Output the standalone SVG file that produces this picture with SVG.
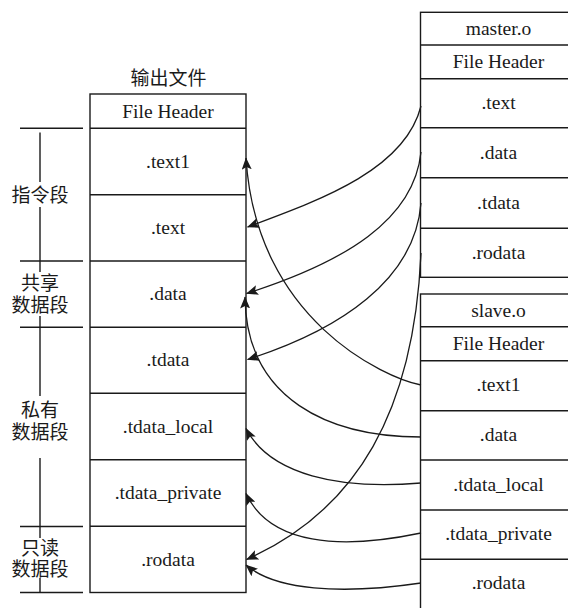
<svg xmlns="http://www.w3.org/2000/svg" width="568" height="608" viewBox="0 0 568 608">
<style>
.box{fill:#fff;stroke:#1a1a1a;stroke-width:1.4}
.ln{stroke:#1a1a1a;stroke-width:1.4;fill:none}
.t{font-family:"Liberation Serif","Times New Roman",serif;font-size:19.5px;fill:#1a1a1a;text-anchor:middle}
.c{font-family:"Noto Sans CJK SC","Noto Sans",sans-serif;font-size:19px;fill:#1a1a1a;text-anchor:middle}
.cn{stroke:#1a1a1a;stroke-width:1.3;fill:none;marker-end:url(#ah)}
</style>
<defs>
<marker id="ah" viewBox="0 0 12 10" refX="11.5" refY="5" markerWidth="12" markerHeight="10" markerUnits="userSpaceOnUse" orient="auto">
<path d="M0,0 L12,5 L0,10 L2.5,5 z" fill="#1a1a1a"/>
</marker>
</defs>
<rect width="568" height="608" fill="#fff"/>

<g id="output-file">
<text class="c" x="168.5" y="85" font-size="20">输出文件</text>
<rect class="box" x="90" y="94" width="156" height="498.5"/>
<line class="ln" x1="90" y1="128.3" x2="246" y2="128.3"/>
<line class="ln" x1="90" y1="194.7" x2="246" y2="194.7"/>
<line class="ln" x1="90" y1="261" x2="246" y2="261"/>
<line class="ln" x1="90" y1="327.3" x2="246" y2="327.3"/>
<line class="ln" x1="90" y1="393.3" x2="246" y2="393.3"/>
<line class="ln" x1="90" y1="459.7" x2="246" y2="459.7"/>
<line class="ln" x1="90" y1="526.3" x2="246" y2="526.3"/>
<text class="t" x="168" y="118">File Header</text>
<text class="t" x="168" y="167.5">.text1</text>
<text class="t" x="168" y="234">.text</text>
<text class="t" x="168" y="300">.data</text>
<text class="t" x="168" y="366">.tdata</text>
<text class="t" x="168" y="432.5">.tdata_local</text>
<text class="t" x="168" y="499">.tdata_private</text>
<text class="t" x="168" y="565.5">.rodata</text>
</g>

<g id="segment-labels">
<line class="ln" x1="20" y1="128.3" x2="83" y2="128.3"/>
<line class="ln" x1="20" y1="261" x2="83" y2="261"/>
<line class="ln" x1="20" y1="327.3" x2="83" y2="327.3"/>
<line class="ln" x1="20" y1="526.5" x2="83" y2="526.5"/>
<line class="ln" x1="20" y1="592.5" x2="83" y2="592.5"/>
<line class="ln" x1="40" y1="132.5" x2="40" y2="182"/>
<line class="ln" x1="40" y1="207" x2="40" y2="272"/>
<line class="ln" x1="40" y1="316" x2="40" y2="396"/>
<line class="ln" x1="40" y1="458" x2="40" y2="538"/>
<line class="ln" x1="40" y1="578" x2="40" y2="593"/>
<text class="c" x="40" y="202">指令段</text>
<text class="c" x="40" y="290">共享<tspan x="40" dy="22">数据段</tspan></text>
<text class="c" x="40" y="417">私有<tspan x="40" dy="21.5">数据段</tspan></text>
<text class="c" x="40" y="554.5">只读<tspan x="40" dy="21.5">数据段</tspan></text>
</g>

<g id="master-o">
<rect class="box" x="420.5" y="12.3" width="156" height="265"/>
<line class="ln" x1="420.5" y1="45" x2="576" y2="45"/>
<line class="ln" x1="420.5" y1="78.7" x2="576" y2="78.7"/>
<line class="ln" x1="420.5" y1="127.7" x2="576" y2="127.7"/>
<line class="ln" x1="420.5" y1="177.7" x2="576" y2="177.7"/>
<line class="ln" x1="420.5" y1="228.3" x2="576" y2="228.3"/>
<text class="t" x="498.5" y="35">master.o</text>
<text class="t" x="498.5" y="68.3">File Header</text>
<text class="t" x="498.5" y="108.8">.text</text>
<text class="t" x="498.5" y="158.5">.data</text>
<text class="t" x="498.5" y="208.8">.tdata</text>
<text class="t" x="498.5" y="258.5">.rodata</text>
</g>

<g id="slave-o">
<rect class="box" x="420.5" y="294" width="156" height="330"/>
<line class="ln" x1="420.5" y1="326.7" x2="576" y2="326.7"/>
<line class="ln" x1="420.5" y1="360.7" x2="576" y2="360.7"/>
<line class="ln" x1="420.5" y1="410.7" x2="576" y2="410.7"/>
<line class="ln" x1="420.5" y1="460" x2="576" y2="460"/>
<line class="ln" x1="420.5" y1="510" x2="576" y2="510"/>
<line class="ln" x1="420.5" y1="559.3" x2="576" y2="559.3"/>
<text class="t" x="498.5" y="316.7">slave.o</text>
<text class="t" x="498.5" y="350">File Header</text>
<text class="t" x="498.5" y="391">.text1</text>
<text class="t" x="498.5" y="440.5">.data</text>
<text class="t" x="498.5" y="490.5">.tdata_local</text>
<text class="t" x="498.5" y="540">.tdata_private</text>
<text class="t" x="498.5" y="589">.rodata</text>
</g>

<g id="connectors">
<path class="cn" d="M421,106 C405,170 320,200 247.5,227"/>
<path class="cn" d="M421,152 C414,220 345,262 246.5,293.5"/>
<path class="cn" d="M421,203 C415,280 340,330 247.5,359.5"/>
<path class="cn" d="M421,253 C414,410 358,510 246.5,559.5"/>
<path class="cn" d="M421,385 C385,378 256,320 246,158"/>
<path class="cn" d="M421,437 C330,437 246,400 245,297"/>
<path class="cn" d="M421,483 C340,490 270,475 246,428.5"/>
<path class="cn" d="M421,533 C340,550 270,545 246,493.5"/>
<path class="cn" d="M421,583 C340,595 275,590 246,565"/>
</g>
</svg>
